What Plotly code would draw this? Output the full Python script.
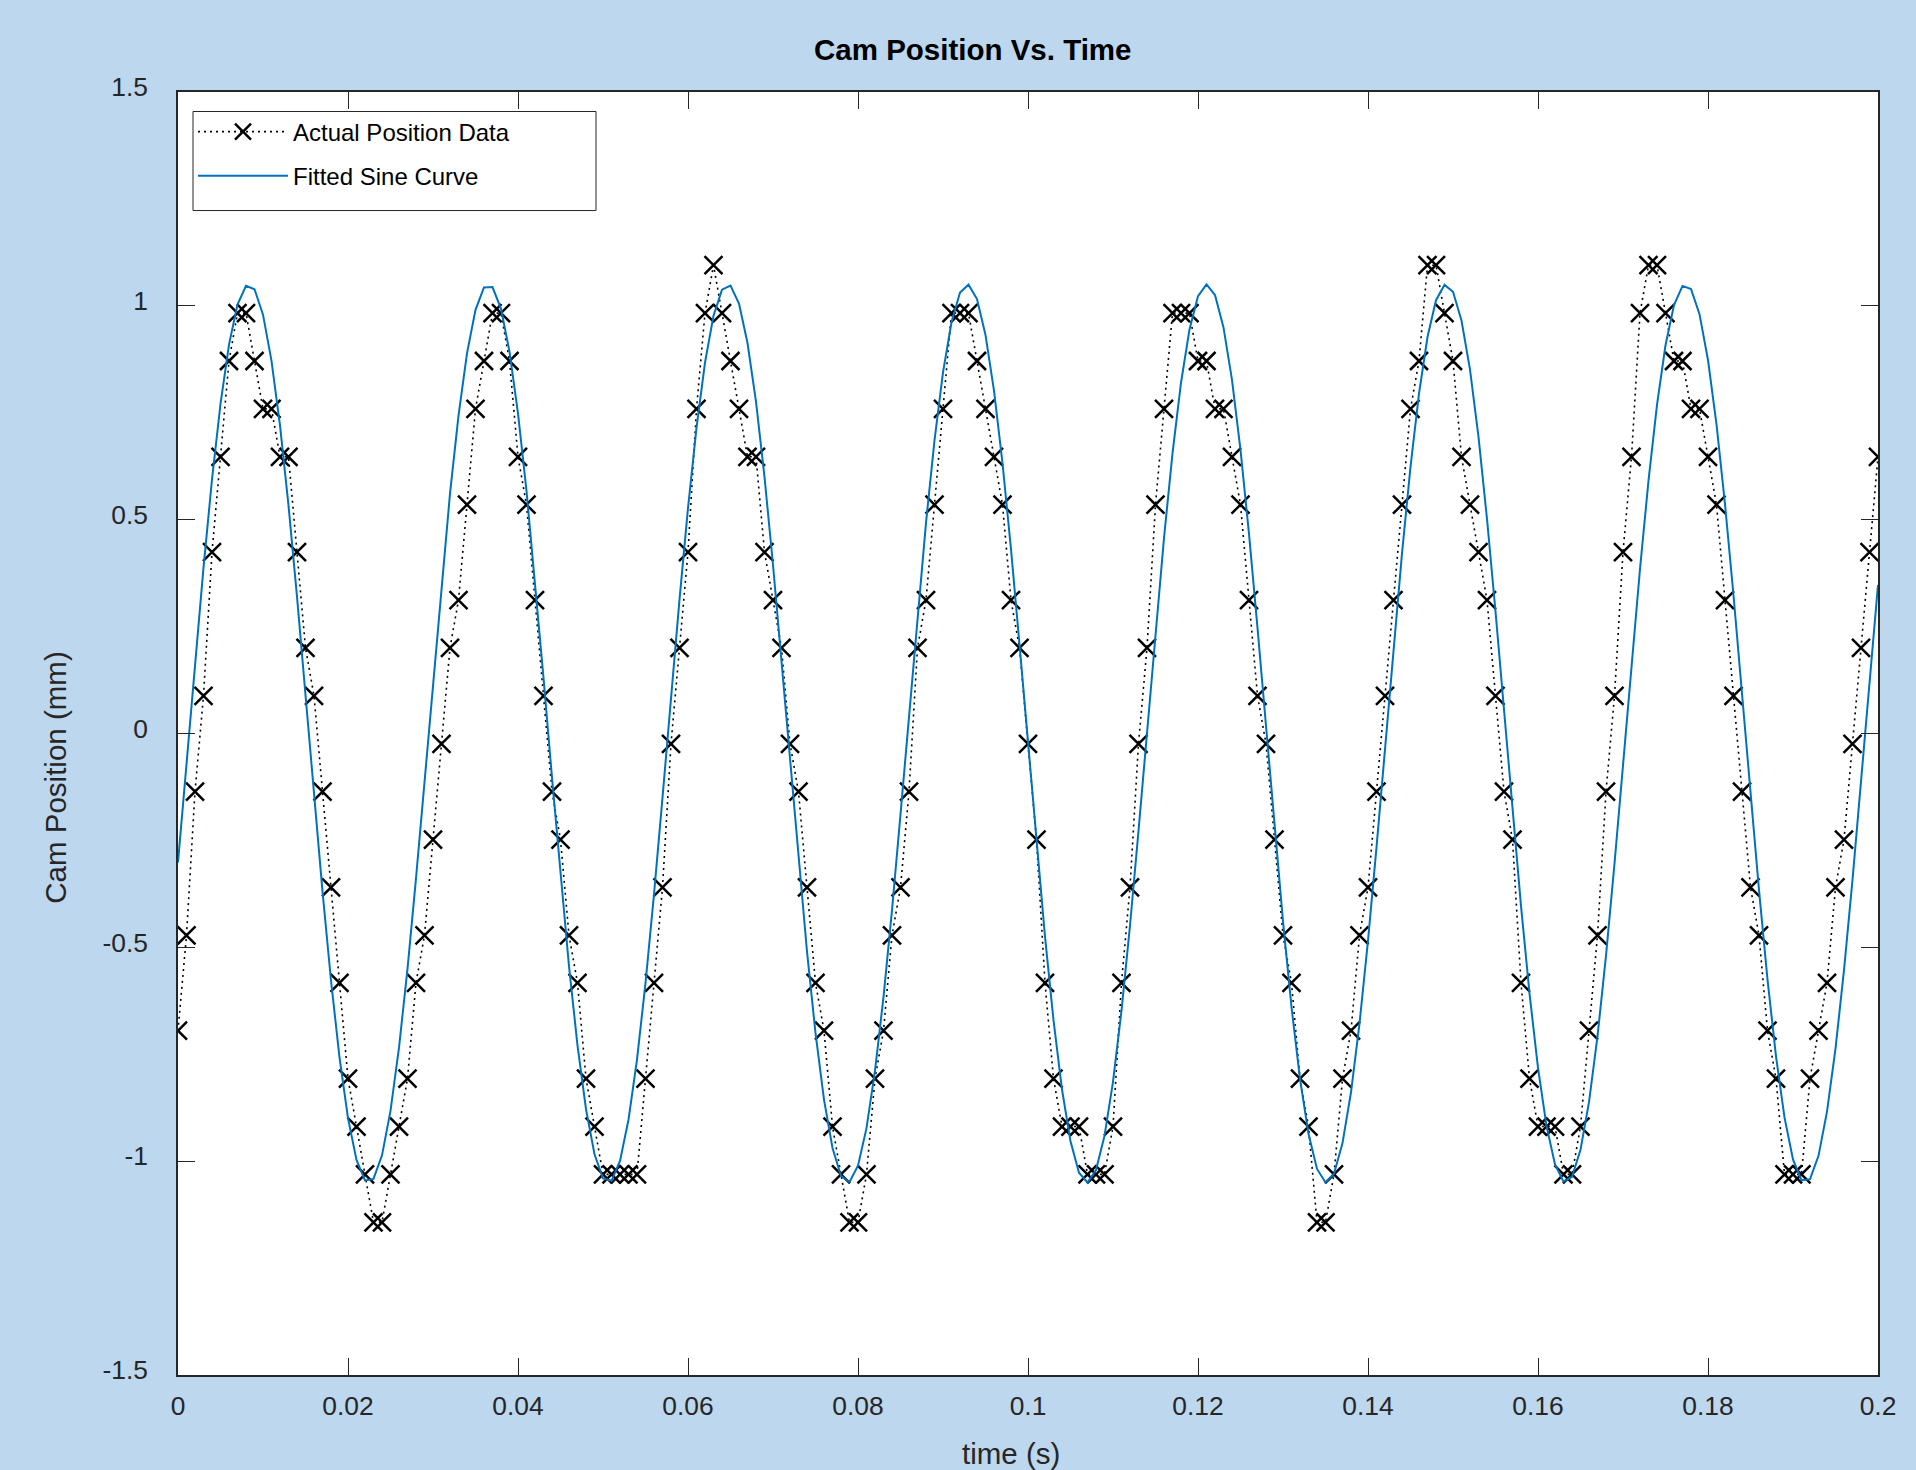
import math
import plotly.graph_objects as go

# ---------------- data ----------------
time_s = [round(k * 0.001, 3) for k in range(201)]

actual_position_mm = [
    -0.695, -0.472, -0.136, 0.088, 0.424, 0.647, 0.871, 0.983, 0.983, 0.871,
    0.759, 0.759, 0.647, 0.647, 0.424, 0.200, 0.088, -0.136, -0.360, -0.583,
    -0.807, -0.919, -1.031, -1.143, -1.143, -1.031, -0.919, -0.807, -0.583, -0.472,
    -0.248, -0.024, 0.200, 0.312, 0.535, 0.759, 0.871, 0.983, 0.983, 0.871,
    0.647, 0.535, 0.312, 0.088, -0.136, -0.248, -0.472, -0.583, -0.807, -0.919,
    -1.031, -1.031, -1.031, -1.031, -1.031, -0.807, -0.583, -0.360, -0.024, 0.200,
    0.424, 0.759, 0.983, 1.095, 0.983, 0.871, 0.759, 0.647, 0.647, 0.424,
    0.312, 0.200, -0.024, -0.136, -0.360, -0.583, -0.695, -0.919, -1.031, -1.143,
    -1.143, -1.031, -0.807, -0.695, -0.472, -0.360, -0.136, 0.200, 0.312, 0.535,
    0.759, 0.983, 0.983, 0.983, 0.871, 0.759, 0.647, 0.535, 0.312, 0.200,
    -0.024, -0.248, -0.583, -0.807, -0.919, -0.919, -0.919, -1.031, -1.031, -1.031,
    -0.919, -0.583, -0.360, -0.024, 0.200, 0.535, 0.759, 0.983, 0.983, 0.983,
    0.871, 0.871, 0.759, 0.759, 0.647, 0.535, 0.312, 0.088, -0.024, -0.248,
    -0.472, -0.583, -0.807, -0.919, -1.143, -1.143, -1.031, -0.807, -0.695, -0.472,
    -0.360, -0.136, 0.088, 0.312, 0.535, 0.759, 0.871, 1.095, 1.095, 0.983,
    0.871, 0.647, 0.535, 0.424, 0.312, 0.088, -0.136, -0.248, -0.583, -0.807,
    -0.919, -0.919, -0.919, -1.031, -1.031, -0.919, -0.695, -0.472, -0.136, 0.088,
    0.424, 0.647, 0.983, 1.095, 1.095, 0.983, 0.871, 0.871, 0.759, 0.759,
    0.647, 0.535, 0.312, 0.088, -0.136, -0.360, -0.472, -0.695, -0.807, -1.031,
    -1.031, -1.031, -0.807, -0.695, -0.583, -0.360, -0.248, -0.024, 0.200, 0.424,
    0.647,
]

# fitted sine parameters
FIT_AMPLITUDE_MM = 1.05
FIT_FREQUENCY_HZ = 35.5
FIT_PHASE_RAD = -0.291
fit_time_s = time_s
fitted_position_mm = [FIT_AMPLITUDE_MM * math.sin(2 * math.pi * FIT_FREQUENCY_HZ * t + FIT_PHASE_RAD)
                      for t in fit_time_s]

x_tick_vals = [0, 0.02, 0.04, 0.06, 0.08, 0.1, 0.12, 0.14, 0.16, 0.18, 0.2]
x_tick_text = ["0", "0.02", "0.04", "0.06", "0.08", "0.1", "0.12", "0.14", "0.16", "0.18", "0.2"]
y_tick_vals = [-1.5, -1, -0.5, 0, 0.5, 1, 1.5]
y_tick_text = ["-1.5", "-1", "-0.5", "0", "0.5", "1", "1.5"]

title_text = "Cam Position Vs. Time"
x_label = "time (s)"
y_label = "Cam Position (mm)"

# ---------------- figure ----------------
FONT = "Liberation Sans, Arial, Helvetica, sans-serif"
AX = "#262626"

fig = go.Figure()
fig.add_trace(go.Scatter(
    x=time_s, y=actual_position_mm, mode="lines+markers",
    name="Actual Position Data", legendgroup="a",
    line=dict(color="black", width=1.6, dash="2px,4px"),
    marker=dict(symbol="x-thin", size=18, color="black",
                line=dict(width=2.5, color="black")),
))
fig.add_trace(go.Scatter(
    x=fit_time_s, y=fitted_position_mm, mode="lines",
    name="Fitted Sine Curve", legendgroup="b",
    line=dict(color="#0072BD", width=2),
))

axis_common = dict(
    ticks="inside", ticklen=17, tickwidth=1, tickcolor=AX,
    showline=True, linecolor=AX, linewidth=1.5, mirror="ticks",
    showgrid=False, zeroline=False,
    tickfont=dict(family=FONT, size=26.4, color=AX),
)

# legend frame (pixel box 193..596 x 112..211 inside a 178..1878 x 92..1375 plot area)
leg_x0, leg_x1 = (193 - 178) / 1700, (596 - 178) / 1700
leg_y0, leg_y1 = (1375 - 211) / 1282.5, (1375 - 112) / 1282.5

fig.update_layout(
    width=1916, height=1470,
    paper_bgcolor="#BDD7EE", plot_bgcolor="white",
    margin=dict(l=178, r=38, t=92, b=95, pad=0),
    xaxis=dict(range=[0, 0.2], tickvals=x_tick_vals, ticktext=x_tick_text,
               ticklabelstandoff=7, **axis_common),
    yaxis=dict(range=[-1.5, 1.5], tickvals=y_tick_vals, ticktext=y_tick_text,
               ticklabelstandoff=23, ticklabelshift=-5, **axis_common),
    showlegend=True,
    legend=dict(x=leg_x0, y=(1375 - 110) / 1282.5, xanchor="left", yanchor="top",
                bgcolor="rgba(0,0,0,0)", borderwidth=0,
                font=dict(family=FONT, size=24, color="black"),
                itemwidth=90, tracegroupgap=10, traceorder="grouped"),
    shapes=[dict(type="rect", xref="paper", yref="paper",
                 x0=leg_x0, x1=leg_x1, y0=leg_y0, y1=leg_y1,
                 fillcolor="white", line=dict(color=AX, width=1), layer="above")],
    annotations=[
        dict(text="<b>" + title_text + "</b>", xref="paper", yref="paper",
             x=0.4676, y=1.0331, xanchor="center", yanchor="middle",
             showarrow=False, font=dict(family=FONT, size=29.5, color="black")),
        dict(text=x_label, xref="paper", yref="paper",
             x=0.49, y=-0.0608, xanchor="center", yanchor="middle",
             showarrow=False, font=dict(family=FONT, size=29.5, color=AX)),
        dict(text=y_label, xref="paper", yref="paper", textangle=-90,
             x=-0.0718, y=0.4655, xanchor="center", yanchor="middle",
             showarrow=False, font=dict(family=FONT, size=29.5, color=AX)),
    ],
)

fig.write_html("out.html", config={"displayModeBar": False},
               post_script="document.body.style.margin='0';document.body.style.overflow='hidden';")
